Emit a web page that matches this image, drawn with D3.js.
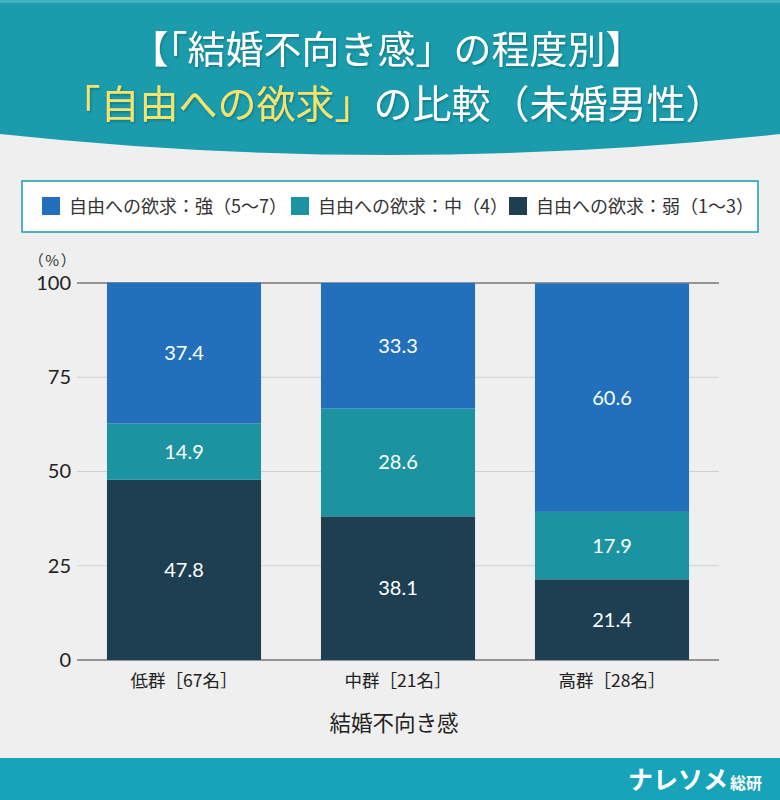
<!DOCTYPE html>
<html lang="ja">
<head>
<meta charset="UTF-8">
<title>結婚不向き感の程度別 自由への欲求の比較</title>
<style>
  body { margin: 0; background: #efefef; }
  svg { display: block; font-family: "Noto Sans CJK JP", sans-serif; }
  .num { font-family: Lato, "Noto Sans CJK JP", sans-serif; }
</style>
</head>
<body>
<div id="chart"></div>
<script src="https://cdn.jsdelivr.net/npm/d3@7"></script>
<script>
const groups = ["低群［67名］", "中群［21名］", "高群［28名］"];
const seriesNames = ["自由への欲求：弱（1～3）", "自由への欲求：中（4）", "自由への欲求：強（5～7）"];
const weak = [47.8, 38.1, 21.4];
const mid = [14.9, 28.6, 17.9];
const strong = [37.4, 33.3, 60.6];
const yTicks = [0, 25, 50, 75, 100];
const legendOrder = [2, 1, 0];
const colors = ["#1e3f52", "#1b93a0", "#2270bc"];

const W = 780, H = 800;
const svg = d3.select("#chart").append("svg")
    .attr("width", W).attr("height", H);

svg.append("rect").attr("width", W).attr("height", H).attr("fill", "#efefef");

// header band with curved bottom
svg.append("path")
    .attr("d", `M0,0 H${W} V134 Q${W / 2},176 0,134 Z`)
    .attr("fill", "#1a9cad");
svg.append("rect").attr("width", W).attr("height", 3).attr("fill", "#3db3c2");

const defs = svg.append("defs");
const shadow = defs.append("filter").attr("id", "ts").attr("x", "-10%").attr("y", "-10%")
    .attr("width", "120%").attr("height", "130%");
shadow.append("feDropShadow").attr("dx", 1).attr("dy", 1.5).attr("stdDeviation", 1)
    .attr("flood-color", "#0b5660").attr("flood-opacity", 0.55);

svg.append("text")
    .attr("x", 387).attr("y", 63)
    .attr("text-anchor", "middle")
    .attr("fill", "#fff").attr("font-size", 38).attr("font-weight", 400)
    .attr("filter", "url(#ts)")
    .text("【「結婚不向き感」の程度別】");

const t2 = svg.append("text")
    .attr("x", 393).attr("y", 118)
    .attr("text-anchor", "middle")
    .attr("font-size", 39).attr("font-weight", 400)
    .attr("filter", "url(#ts)");
t2.append("tspan").attr("fill", "#f4e46c").text("「自由への欲求」");
t2.append("tspan").attr("fill", "#fff").text("の比較（未婚男性）");

// legend
svg.append("rect")
    .attr("x", 22).attr("y", 181).attr("width", 736).attr("height", 51)
    .attr("fill", "#fff").attr("stroke", "#1a9cad").attr("stroke-width", 1.5);

const legendX = [42, 291, 509];
const lg = svg.append("g").selectAll("g")
    .data(legendOrder)
    .join("g")
    .attr("transform", (d, i) => `translate(${legendX[i]},206)`);
lg.append("rect").attr("x", 0).attr("y", -9).attr("width", 18).attr("height", 18)
    .attr("fill", d => colors[d]);
lg.append("text").attr("x", 27).attr("y", 6.5)
    .attr("font-size", 18).attr("fill", "#333")
    .text(d => seriesNames[d]);

// plot
const x = d3.scaleBand().domain(groups).range([77, 719]).paddingInner(0.28).paddingOuter(0.14);
const y = d3.scaleLinear().domain([0, 100]).range([660, 283]);

const grid = svg.append("g");
grid.selectAll("line")
    .data(yTicks)
    .join("line")
    .attr("x1", 77).attr("x2", 719)
    .attr("y1", d => y(d)).attr("y2", d => y(d))
    .attr("stroke", d => (d === 0 || d === 100) ? "#777" : "#cfcfcf")
    .attr("stroke-width", d => (d === 0 || d === 100) ? 1.3 : 1);

const yAxis = d3.axisLeft(y).tickValues(yTicks).tickSize(0).tickPadding(6);
svg.append("g")
    .attr("transform", "translate(77,0)")
    .call(yAxis)
    .call(g => g.select(".domain").remove())
    .call(g => g.selectAll("text")
        .attr("class", "num")
        .attr("font-size", 20).attr("fill", "#222"));

svg.append("text")
    .attr("x", 53).attr("y", 266)
    .attr("text-anchor", "middle")
    .attr("font-size", 15).attr("letter-spacing", 1.5).attr("fill", "#333")
    .text("（%）");

const rows = groups.map((g, i) => ({ group: g, weak: weak[i], mid: mid[i], strong: strong[i] }));
const stack = d3.stack().keys(["weak", "mid", "strong"]);
const stacked = stack(rows);

const layers = svg.append("g").selectAll("g")
    .data(stacked)
    .join("g")
    .attr("fill", (d, i) => colors[i]);

layers.selectAll("rect")
    .data(d => d)
    .join("rect")
    .attr("x", d => x(d.data.group))
    .attr("width", x.bandwidth())
    .attr("y", d => y(d[1]))
    .attr("height", d => y(d[0]) - y(d[1]));

layers.selectAll("text")
    .data(d => d.map(v => ({ v, key: d.key })))
    .join("text")
    .attr("class", "num")
    .attr("x", d => x(d.v.data.group) + x.bandwidth() / 2)
    .attr("y", d => y((d.v[0] + d.v[1]) / 2) + 7)
    .attr("text-anchor", "middle")
    .attr("fill", "#fff").attr("font-size", 20)
    .text(d => d.v.data[d.key].toFixed(1));

// x axis labels
const xAxis = d3.axisBottom(x).tickSize(0).tickPadding(15);
svg.append("g")
    .attr("transform", "translate(0,660)")
    .call(xAxis)
    .call(g => g.select(".domain").remove())
    .call(g => g.selectAll("text")
        .attr("font-size", 17.5).attr("fill", "#222")
        .attr("font-family", "'Noto Sans CJK JP', sans-serif"));

svg.append("text")
    .attr("x", 394).attr("y", 731)
    .attr("text-anchor", "middle")
    .attr("font-size", 21.5).attr("fill", "#222")
    .text("結婚不向き感");

// footer
svg.append("rect").attr("x", 0).attr("y", 758).attr("width", W).attr("height", 42)
    .attr("fill", "#17a4b8");
const ft = svg.append("text")
    .attr("x", 762).attr("y", 789)
    .attr("text-anchor", "end")
    .attr("fill", "#fff").attr("font-weight", 700);
ft.append("tspan").attr("font-size", 25).text("ナレソメ");
ft.append("tspan").attr("font-size", 16).attr("dx", 2).text("総研");
</script>
</body>
</html>
